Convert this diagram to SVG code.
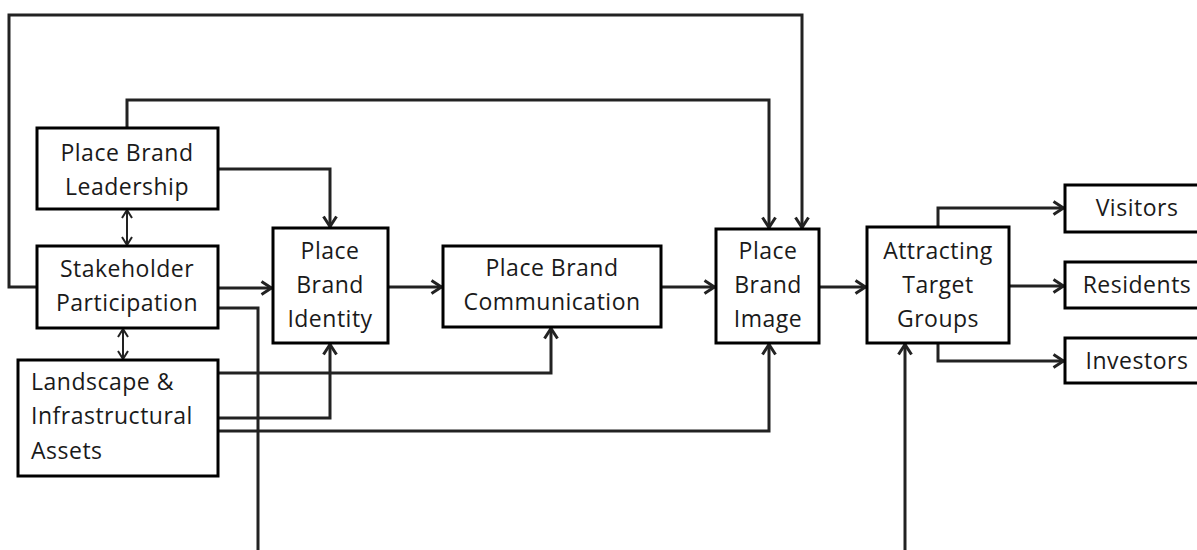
<svg xmlns="http://www.w3.org/2000/svg" width="1197" height="550" viewBox="0 0 1197 550">
<style>
.box{fill:#fff;stroke:#000;stroke-width:3}
.t{font-family:"Open Sans","Noto Sans",sans-serif;font-size:23px;letter-spacing:0.5px;fill:#1a1a1a;text-anchor:middle}
.tl{text-anchor:start}
.c{fill:none;stroke:#222;stroke-width:3}
.d{fill:none;stroke:#222;stroke-width:2}
</style>
<defs>
<marker id="a" viewBox="0 0 13 16" refX="12" refY="8" markerWidth="13" markerHeight="16" markerUnits="userSpaceOnUse" orient="auto-start-reverse">
<path d="M1.5,1.5 L11.5,8 L1.5,14.5" fill="none" stroke="#222" stroke-width="3"/>
</marker>
<marker id="s" viewBox="0 0 10 12" refX="9" refY="6" markerWidth="10" markerHeight="12" markerUnits="userSpaceOnUse" orient="auto-start-reverse">
<path d="M1,1 L9,6 L1,11" fill="none" stroke="#222" stroke-width="2"/>
</marker>
</defs>
<rect width="1197" height="550" fill="#fff"/>
<g id="connectors">
<path class="c" d="M37,287 H9 V15 H802 V228" marker-end="url(#a)"/>
<path class="c" d="M127,128 V100 H769 V228" marker-end="url(#a)"/>
<path class="c" d="M218,169 H330 V227" marker-end="url(#a)"/>
<path class="d" d="M127,210 V245" marker-start="url(#s)" marker-end="url(#s)"/>
<path class="d" d="M123,329 V359" marker-start="url(#s)" marker-end="url(#s)"/>
<path class="c" d="M218,288 H272" marker-end="url(#a)"/>
<path class="c" d="M218,308 H258 V550"/>
<path class="c" d="M218,373 H551 V328" marker-end="url(#a)"/>
<path class="c" d="M218,418 H330 V344" marker-end="url(#a)"/>
<path class="c" d="M218,431 H769 V344" marker-end="url(#a)"/>
<path class="c" d="M388,287 H442" marker-end="url(#a)"/>
<path class="c" d="M661,287 H715" marker-end="url(#a)"/>
<path class="c" d="M819,287 H866" marker-end="url(#a)"/>
<path class="c" d="M938,227 V208 H1064" marker-end="url(#a)"/>
<path class="c" d="M1009,286 H1064" marker-end="url(#a)"/>
<path class="c" d="M938,343 V361 H1064" marker-end="url(#a)"/>
<path class="c" d="M905,550 V344" marker-end="url(#a)"/>
</g>
<g id="leadership">
<rect class="box" x="37" y="128" width="181" height="81"/>
<text class="t" x="127" y="161">Place Brand</text>
<text class="t" x="127" y="195">Leadership</text>
</g>
<g id="stakeholder">
<rect class="box" x="37" y="246" width="181" height="82"/>
<text class="t" x="127" y="277">Stakeholder</text>
<text class="t" x="127" y="311">Participation</text>
</g>
<g id="landscape">
<rect class="box" x="18" y="360" width="200" height="116"/>
<text class="t tl" x="31" y="390">Landscape &amp;</text>
<text class="t tl" x="31" y="424">Infrastructural</text>
<text class="t tl" x="31" y="459">Assets</text>
</g>
<g id="identity">
<rect class="box" x="273" y="228" width="115" height="115"/>
<text class="t" x="330" y="259">Place</text>
<text class="t" x="330" y="293">Brand</text>
<text class="t" x="330" y="327">Identity</text>
</g>
<g id="communication">
<rect class="box" x="443" y="246" width="218" height="81"/>
<text class="t" x="552" y="276">Place Brand</text>
<text class="t" x="552" y="310">Communication</text>
</g>
<g id="image">
<rect class="box" x="716" y="229" width="103" height="114"/>
<text class="t" x="768" y="259">Place</text>
<text class="t" x="768" y="293">Brand</text>
<text class="t" x="768" y="327">Image</text>
</g>
<g id="attracting">
<rect class="box" x="867" y="227" width="142" height="116"/>
<text class="t" x="938" y="259">Attracting</text>
<text class="t" x="938" y="293">Target</text>
<text class="t" x="938" y="327">Groups</text>
</g>
<g id="visitors">
<rect class="box" x="1065" y="185" width="145" height="47"/>
<text class="t" x="1137" y="216">Visitors</text>
</g>
<g id="residents">
<rect class="box" x="1065" y="262" width="145" height="46"/>
<text class="t" x="1137" y="293">Residents</text>
</g>
<g id="investors">
<rect class="box" x="1065" y="338" width="145" height="45"/>
<text class="t" x="1137" y="369">Investors</text>
</g>
</svg>
